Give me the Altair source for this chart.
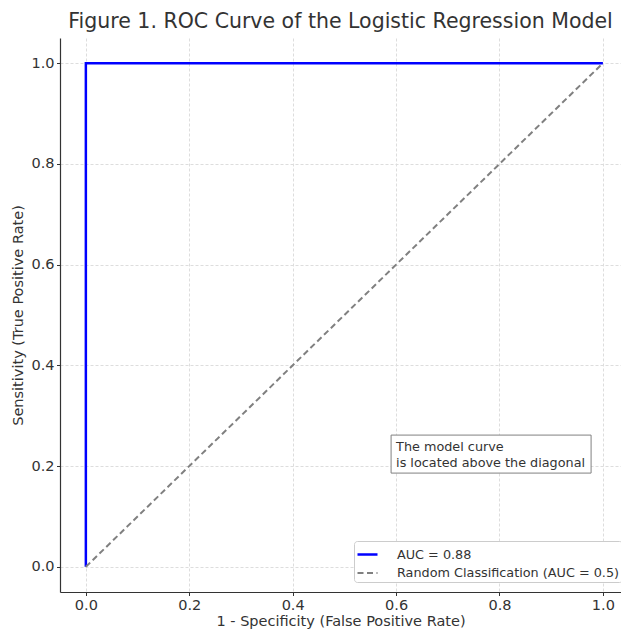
import altair as alt
import pandas as pd

# ROC curve of the model
roc_fpr = [0.0, 0.0, 1.0]
roc_tpr = [0.0, 1.0, 1.0]
# Random classifier diagonal
diag_fpr = [0.0, 1.0]
diag_tpr = [0.0, 1.0]

series_names = ["AUC = 0.88", "Random Classification (AUC = 0.5)"]
series_colors = ["#0000ff", "#808080"]
series_dash = [[1, 0], [6, 3.5]]
series_width = [2.5, 2.0]

x_ticks = [0.0, 0.2, 0.4, 0.6, 0.8, 1.0]
y_ticks = [0.0, 0.2, 0.4, 0.6, 0.8, 1.0]

note_x = 0.6
note_y = 0.2
note_lines = ["The model curve", "is located above the diagonal"]

rows = []
for i, (fx, ty) in enumerate(zip(roc_fpr, roc_tpr)):
    rows.append({"fpr": fx, "tpr": ty, "series": series_names[0], "ord": i})
for i, (fx, ty) in enumerate(zip(diag_fpr, diag_tpr)):
    rows.append({"fpr": fx, "tpr": ty, "series": series_names[1], "ord": i})
df = pd.DataFrame(rows)

FONT = "DejaVu Sans"

# the right end is cut at the page edge, as in the reference
xscale = alt.Scale(domain=[-0.05, 1.035], nice=False, zero=False)
yscale = alt.Scale(domain=[-0.05, 1.05], nice=False, zero=False)

leg = alt.Legend(title=None, orient="none", legendX=294, legendY=503, labelLimit=0)

lines = alt.Chart(df).mark_line(clip=False).encode(
    x=alt.X("fpr:Q", scale=xscale,
            axis=alt.Axis(values=x_ticks, format=".1f",
                          title="1 - Specificity (False Positive Rate)")),
    y=alt.Y("tpr:Q", scale=yscale,
            axis=alt.Axis(values=y_ticks, format=".1f",
                          title="Sensitivity (True Positive Rate)")),
    color=alt.Color("series:N", sort=series_names,
                    scale=alt.Scale(domain=series_names, range=series_colors),
                    legend=leg),
    strokeDash=alt.StrokeDash("series:N", sort=series_names,
                              scale=alt.Scale(domain=series_names, range=series_dash),
                              legend=leg),
    strokeWidth=alt.StrokeWidth("series:N", sort=series_names,
                                scale=alt.Scale(domain=series_names, range=series_width),
                                legend=None),
    detail="series:N",
    order="ord:Q",
)

box = alt.Chart(pd.DataFrame({"a": [0]})).mark_rect(
    fill="white", stroke="#808080", strokeWidth=1,
    xOffset=-5, x2Offset=195, yOffset=7, y2Offset=-31,
).encode(
    x=alt.datum(note_x, scale=xscale), x2=alt.datum(note_x),
    y=alt.datum(note_y, scale=yscale), y2=alt.datum(note_y),
)

note = alt.Chart(pd.DataFrame({"a": [0]})).mark_text(
    align="left", baseline="bottom", font=FONT, fontSize=12.8, color="#333333",
    lineHeight=16, dy=-12,
).encode(
    x=alt.datum(note_x, scale=xscale),
    y=alt.datum(note_y, scale=yscale),
    text=alt.value(note_lines),
)

chart = alt.layer(lines, box, note).properties(
    width=561, height=554,
    title=alt.Title("Figure 1. ROC Curve of the Logistic Regression Model",
                    font=FONT, fontSize=20.5, fontWeight="normal",
                    color="#333333", anchor="middle", offset=6),
    autosize=alt.AutoSizeParams(type="none"),
    padding={"left": 52, "top": 30, "right": 0, "bottom": 40},
).configure_view(stroke=None).configure_axis(
    labelFont=FONT, titleFont=FONT, labelFontSize=14.5, titleFontSize=14.5,
    labelColor="#333333", titleColor="#333333", titleFontWeight="normal",
    domainColor="#333333", domainWidth=1.2, tickColor="#333333", tickSize=3.5,
    gridColor="#dddddd", gridDash=[3, 2], gridWidth=1, labelPadding=2.5,
).configure_axisX(titlePadding=3).configure_axisY(titlePadding=5).configure_legend(
    labelFont=FONT, labelFontSize=12.8, labelColor="#333333",
    strokeColor="#cccccc", fillColor="white", padding=2, cornerRadius=3,
    symbolType="stroke", symbolSize=400, symbolStrokeWidth=2.5,
    rowPadding=0, labelOffset=18,
)

chart.save("out.html", embed_options={"renderer": "svg", "actions": False})
